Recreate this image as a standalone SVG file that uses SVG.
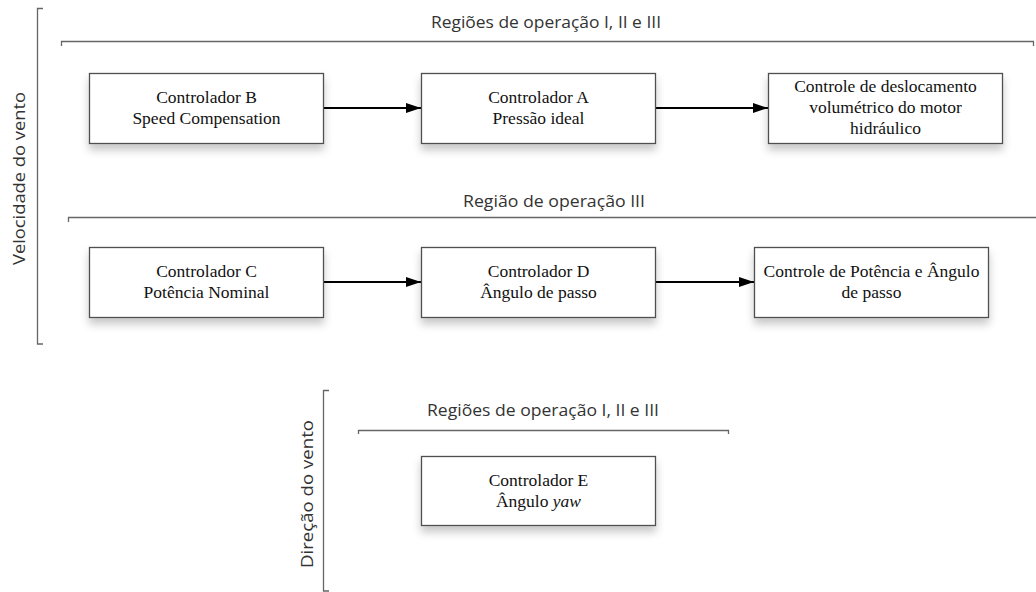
<svg xmlns="http://www.w3.org/2000/svg" width="1036" height="592" viewBox="0 0 1036 592">
<style>
.box{fill:#fff;stroke:#505050;stroke-width:1.3;filter:url(#sh)}
.bt{font-family:"Liberation Serif","Times New Roman",serif;font-size:17.5px;fill:#111;text-anchor:middle}
.st{font-family:"Open Sans","Liberation Sans",sans-serif;font-size:16px;fill:#333;text-anchor:middle}
.br{fill:none;stroke:#666;stroke-width:1.3}
.ar{stroke:#000;stroke-width:1.8;fill:none;marker-end:url(#ah)}
</style>
<defs>
<filter id="sh" x="-10%" y="-20%" width="120%" height="160%">
<feDropShadow dx="0" dy="6" stdDeviation="4" flood-color="#000" flood-opacity="0.22"/>
</filter>
<marker id="ah" viewBox="0 0 15 10" refX="15" refY="5" markerWidth="15" markerHeight="10" markerUnits="userSpaceOnUse" orient="auto">
<path d="M0,0 L15,5 L0,10 Z" fill="#000"/>
</marker>
</defs>
<rect width="1036" height="592" fill="#fff"/>

<g id="brackets">
<path class="br" d="M43,8.5 H37.5 V344 H43"/>
<path class="br" d="M61.5,46 V41.5 H1033.5 V46"/>
<path class="br" d="M68.5,222 V217.5 H1036"/>
<path class="br" d="M329,390.5 H323.5 V591 H329"/>
<path class="br" d="M358.5,434 V430.5 H728.5 V434"/>
</g>

<g id="labels">
<text class="st" x="546" y="28" textLength="230" lengthAdjust="spacingAndGlyphs">Regiões de operação I, II e III</text>
<text class="st" x="554" y="207" textLength="182" lengthAdjust="spacingAndGlyphs">Região de operação III</text>
<text class="st" x="543" y="416" textLength="232" lengthAdjust="spacingAndGlyphs">Regiões de operação I, II e III</text>
<text class="st" transform="translate(25,178.5) rotate(-90)" textLength="173" lengthAdjust="spacingAndGlyphs">Velocidade do vento</text>
<text class="st" transform="translate(313,494) rotate(-90)" textLength="148" lengthAdjust="spacingAndGlyphs">Direção do vento</text>
</g>

<g id="connectors">
<line class="ar" x1="323" y1="108" x2="421" y2="108"/>
<line class="ar" x1="655" y1="108" x2="768" y2="108"/>
<line class="ar" x1="323" y1="282" x2="421" y2="282"/>
<line class="ar" x1="655" y1="282" x2="754" y2="282"/>
</g>

<g id="nodeB">
<rect class="box" x="89.5" y="73.5" width="234" height="70"/>
<text class="bt" x="206.5" y="103">Controlador B</text>
<text class="bt" x="206.5" y="124">Speed Compensation</text>
</g>
<g id="nodeA">
<rect class="box" x="421.5" y="73.5" width="234" height="70"/>
<text class="bt" x="538.5" y="103">Controlador A</text>
<text class="bt" x="538.5" y="124">Pressão ideal</text>
</g>
<g id="nodeMotor">
<rect class="box" x="768.5" y="73.5" width="234" height="70"/>
<text class="bt" x="885.5" y="92">Controle de deslocamento</text>
<text class="bt" x="885.5" y="113">volumétrico do motor</text>
<text class="bt" x="885.5" y="134">hidráulico</text>
</g>
<g id="nodeC">
<rect class="box" x="89.5" y="247.5" width="234" height="70"/>
<text class="bt" x="206.5" y="277">Controlador C</text>
<text class="bt" x="206.5" y="298">Potência Nominal</text>
</g>
<g id="nodeD">
<rect class="box" x="421.5" y="247.5" width="234" height="70"/>
<text class="bt" x="538.5" y="277">Controlador D</text>
<text class="bt" x="538.5" y="298">Ângulo de passo</text>
</g>
<g id="nodePitch">
<rect class="box" x="754.5" y="247.5" width="234" height="70"/>
<text class="bt" x="871.5" y="277">Controle de Potência e Ângulo</text>
<text class="bt" x="871.5" y="298">de passo</text>
</g>
<g id="nodeE">
<rect class="box" x="421.5" y="456.5" width="234" height="69"/>
<text class="bt" x="538.5" y="486">Controlador E</text>
<text class="bt" x="538.5" y="507">Ângulo <tspan font-style="italic">yaw</tspan></text>
</g>
</svg>
